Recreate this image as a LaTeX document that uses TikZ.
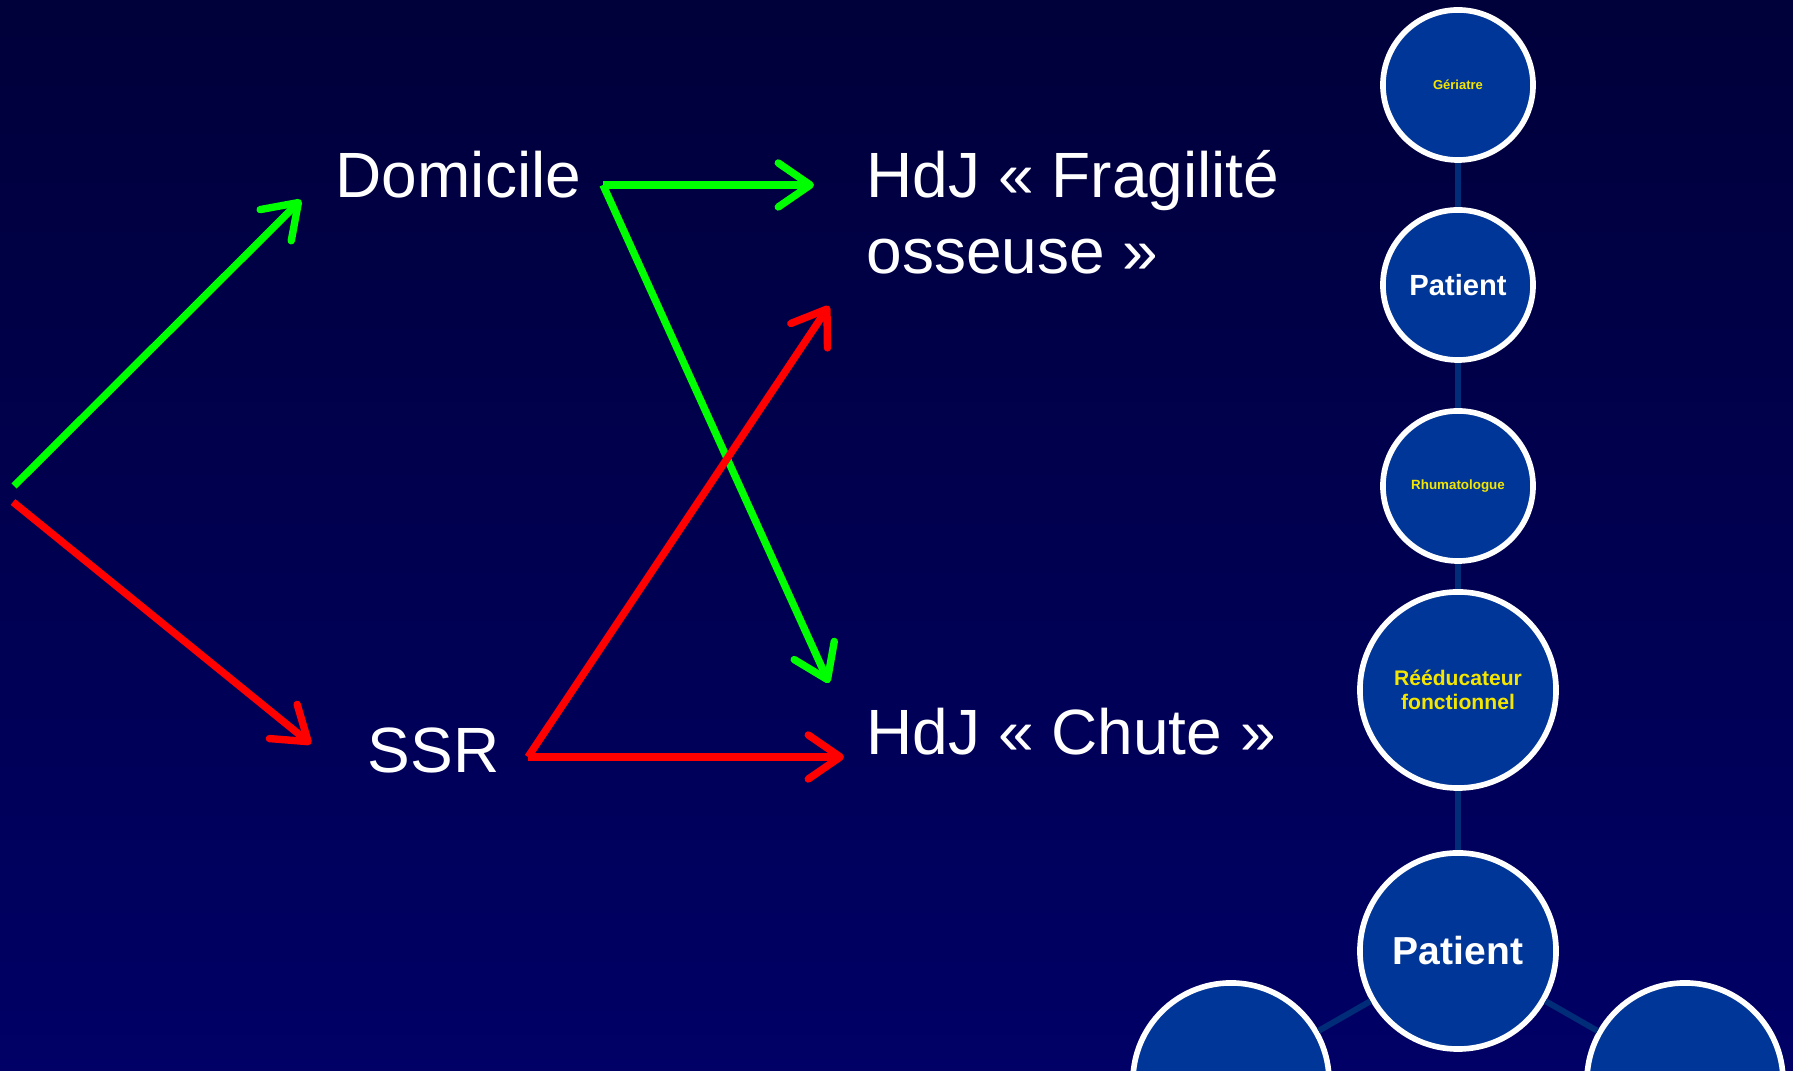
\documentclass[tikz,border=0pt]{standalone}
\usepackage{fontspec}
\setmainfont{Liberation Sans}
\usetikzlibrary{arrows.meta}
\definecolor{bgtop}{RGB}{0,0,58}
\definecolor{bgbot}{RGB}{0,0,102}
\definecolor{discfill}{RGB}{0,54,152}
\definecolor{linkblue}{RGB}{0,44,120}
\definecolor{labyellow}{RGB}{245,230,0}
\definecolor{arrgreen}{RGB}{0,255,0}
\definecolor{arrred}{RGB}{255,0,0}
\begin{document}
\begin{tikzpicture}[x=0.01cm,y=-0.01cm,
  place/.style={text=white, inner sep=0pt, font=\fontsize{18.2}{21.6}\selectfont},
  disc/.style={circle, draw=white, line width=1.6pt, fill=discfill, inner sep=0pt, align=center, font=\bfseries},
  small/.style={disc, minimum size=1.5cm},
  big/.style={disc, minimum size=1.96cm},
  link/.style={draw=linkblue, line width=1.7pt},
  flow/.style={line width=2.1pt, -{Straight Barb[length=0.32cm, width=0.44cm, round]}}]
\clip (0,0) rectangle (1793,1071);
\shade[top color=bgtop, bottom color=bgbot] (0,0) rectangle (1793,1071);

\node[place, anchor=base west] (domicile) at (335,198) {Domicile};
\node[place, anchor=base west] (ssr) at (367,773) {SSR};
\node[place, anchor=base west] (hdjfrag) at (866,198) {HdJ « Fragilité};
\node[place, anchor=base west] (hdjfrag2) at (866,274) {osseuse »};
\node[place, anchor=base west] (hdjchute) at (866,755) {HdJ « Chute »};

\coordinate (orig-up) at (14,486);
\coordinate (orig-dn) at (13,502);
\coordinate (dom-in) at (301,200);
\coordinate (ssr-in) at (311,744);
\coordinate (dom-out) at (603,185);
\coordinate (ssr-out) at (528,757);
\coordinate (frag-in1) at (814,185);
\coordinate (frag-in2) at (829,306);
\coordinate (chute-in1) at (829,683);
\coordinate (chute-in2) at (844,757);

\draw[flow, arrgreen](orig-up) -- (dom-in);
\draw[flow, arrred](orig-dn) -- (ssr-in);
\draw[flow, arrgreen](dom-out) -- (frag-in1);
\draw[flow, arrgreen](dom-out) -- (chute-in1);
\draw[flow, arrred](ssr-out) -- (frag-in2);
\draw[flow, arrred](ssr-out) -- (chute-in2);

\node[small, text=labyellow, font=\bfseries\fontsize{3.7}{4.4}\selectfont] (geriatre) at (1458,85) {Gériatre};
\node[small, text=white, font=\bfseries\fontsize{8.3}{10}\selectfont] (patient1) at (1458,285) {Patient};
\node[small, text=labyellow, font=\bfseries\fontsize{3.8}{4.5}\selectfont] (rhumato) at (1458,486) {Rhumatologue};
\node[big, text=labyellow, font=\bfseries\fontsize{6}{6.8}\selectfont] (reeduc) at (1458,690) {Rééducateur\\fonctionnel};
\node[big, text=white, font=\bfseries\fontsize{11.1}{13}\selectfont] (patient2) at (1458,951) {Patient};
\node[big] (left) at (1231,1081) {};
\node[big] (right) at (1685,1081) {};

\draw[link](geriatre) -- (patient1);
\draw[link](patient1) -- (rhumato);
\draw[link](rhumato) -- (reeduc);
\draw[link](reeduc) -- (patient2);
\draw[link](patient2) -- (left);
\draw[link](patient2) -- (right);
\end{tikzpicture}
\end{document}
